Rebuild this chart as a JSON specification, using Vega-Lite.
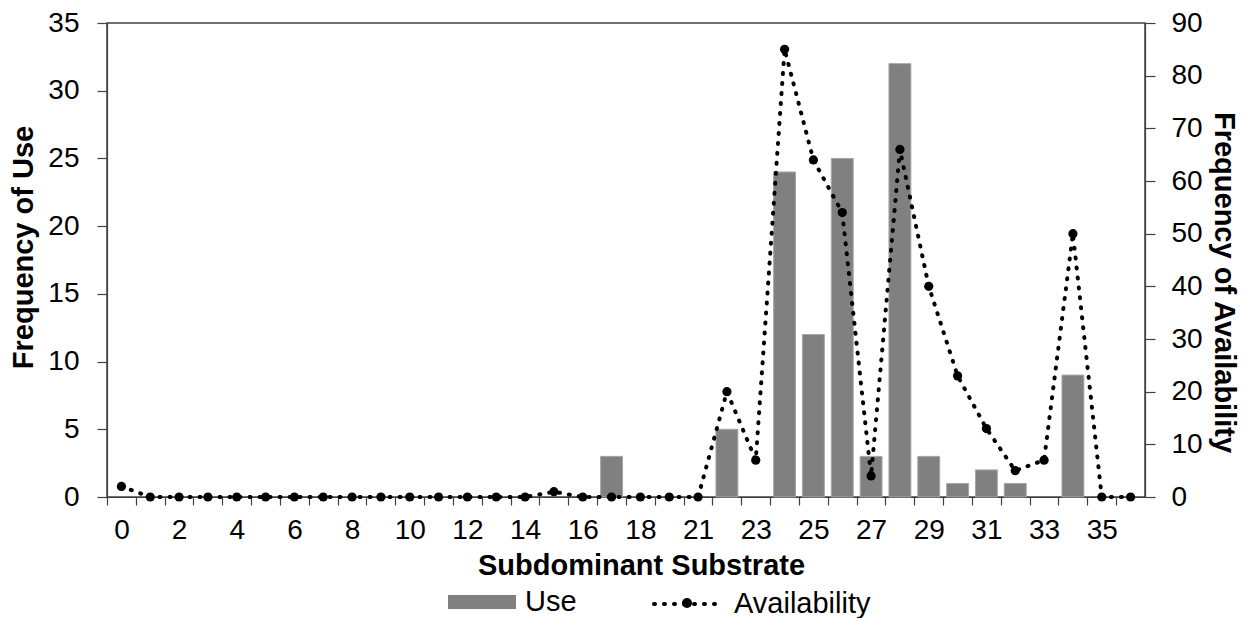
{
  "$schema": "https://vega.github.io/schema/vega-lite/v6.json",
  "width": 1038,
  "height": 474,
  "autosize": {"type": "none"},
  "padding": {"left": 107, "top": 23, "right": 105, "bottom": 121},
  "config": {
    "font": "Liberation Sans",
    "view": {"stroke": "#404040", "strokeWidth": 1.5},
    "axis": {"labelColor": "black", "titleColor": "black", "domainColor": "#404040", "tickColor": "#404040", "domainWidth": 1.2, "tickWidth": 1.2, "grid": false, "labelFont": "Liberation Sans", "titleFont": "Liberation Sans"},
    "legend": {"labelFont": "Liberation Sans", "labelColor": "black"}
  },
  "data": {
    "values": [
      {"idx": 0, "cat": "0", "use": null, "avail": 2},
      {"idx": 1, "cat": "1", "use": null, "avail": 0},
      {"idx": 2, "cat": "2", "use": null, "avail": 0},
      {"idx": 3, "cat": "3", "use": null, "avail": 0},
      {"idx": 4, "cat": "4", "use": null, "avail": 0},
      {"idx": 5, "cat": "5", "use": null, "avail": 0},
      {"idx": 6, "cat": "6", "use": null, "avail": 0},
      {"idx": 7, "cat": "7", "use": null, "avail": 0},
      {"idx": 8, "cat": "8", "use": null, "avail": 0},
      {"idx": 9, "cat": "9", "use": null, "avail": 0},
      {"idx": 10, "cat": "10", "use": null, "avail": 0},
      {"idx": 11, "cat": "11", "use": null, "avail": 0},
      {"idx": 12, "cat": "12", "use": null, "avail": 0},
      {"idx": 13, "cat": "13", "use": null, "avail": 0},
      {"idx": 14, "cat": "14", "use": null, "avail": 0},
      {"idx": 15, "cat": "15", "use": null, "avail": 1},
      {"idx": 16, "cat": "16", "use": null, "avail": 0},
      {"idx": 17, "cat": "17", "use": 3, "avail": 0},
      {"idx": 18, "cat": "18", "use": null, "avail": 0},
      {"idx": 19, "cat": "19", "use": null, "avail": 0},
      {"idx": 20, "cat": "21", "use": null, "avail": 0},
      {"idx": 21, "cat": "22", "use": 5, "avail": 20},
      {"idx": 22, "cat": "23", "use": null, "avail": 7},
      {"idx": 23, "cat": "24", "use": 24, "avail": 85},
      {"idx": 24, "cat": "25", "use": 12, "avail": 64},
      {"idx": 25, "cat": "26", "use": 25, "avail": 54},
      {"idx": 26, "cat": "27", "use": 3, "avail": 4},
      {"idx": 27, "cat": "28", "use": 32, "avail": 66},
      {"idx": 28, "cat": "29", "use": 3, "avail": 40},
      {"idx": 29, "cat": "30", "use": 1, "avail": 23},
      {"idx": 30, "cat": "31", "use": 2, "avail": 13},
      {"idx": 31, "cat": "32", "use": 1, "avail": 5},
      {"idx": 32, "cat": "33", "use": null, "avail": 7},
      {"idx": 33, "cat": "34", "use": 9, "avail": 50},
      {"idx": 34, "cat": "35", "use": null, "avail": 0},
      {"idx": 35, "cat": "36", "use": null, "avail": 0}
    ]
  },
  "encoding": {
    "x": {
      "field": "cat",
      "type": "ordinal",
      "scale": {
        "domain": ["0","1","2","3","4","5","6","7","8","9","10","11","12","13","14","15","16","17","18","19","21","22","23","24","25","26","27","28","29","30","31","32","33","34","35","36"],
        "paddingInner": 0,
        "paddingOuter": 0
      },
      "axis": {
        "title": "Subdominant Substrate",
        "titleFontSize": 29,
        "titleFontWeight": "bold",
        "titleX": 534,
        "titleY": 68,
        "titleBaseline": "middle",
        "titleAlign": "center",
        "labelAngle": 0,
        "labelFontSize": 28,
        "labelPadding": 11,
        "labelOverlap": false,
        "tickSize": 8,
        "tickOffset": -14.417,
        "labelOffset": 14.417,
        "labelExpr": "(toNumber(datum.value) < 20 ? toNumber(datum.value) % 2 == 0 : toNumber(datum.value) % 2 == 1) ? datum.label : ''"
      }
    }
  },
  "layer": [
    {
      "mark": {"type": "bar", "width": {"band": 0.76}, "stroke": "#a6a6a6", "strokeWidth": 1},
      "encoding": {
        "y": {
          "field": "use",
          "type": "quantitative",
          "scale": {"domain": [0, 35], "nice": false},
          "axis": {
            "title": "Frequency of Use",
            "titleFontSize": 29,
            "titleFontWeight": "bold",
            "titleAngle": -90,
            "titleX": -84,
            "titleY": 224,
            "titleBaseline": "middle",
            "titleAlign": "center",
            "values": [0, 5, 10, 15, 20, 25, 30, 35],
            "tickSize": 10,
            "labelPadding": 18,
            "labelFontSize": 28
          }
        },
        "fill": {
          "datum": "Use",
          "scale": {"range": ["#808080"]},
          "legend": {
            "orient": "none",
            "legendX": 341,
            "legendY": 545,
            "title": null,
            "padding": 0,
            "symbolType": "M-1,-0.206H1V0.206H-1Z",
            "symbolSize": 4624,
            "symbolStrokeWidth": 0,
            "labelFontSize": 29,
            "labelOffset": 9
          }
        }
      }
    },
    {
      "encoding": {
        "y": {
          "field": "avail",
          "type": "quantitative",
          "scale": {"domain": [0, 90], "nice": false},
          "axis": {
            "orient": "right",
            "title": "Frequency of Availability",
            "titleFontSize": 29,
            "titleFontWeight": "bold",
            "titleAngle": 90,
            "titleX": 78,
            "titleY": 259,
            "titleBaseline": "middle",
            "titleAlign": "center",
            "values": [0, 10, 20, 30, 40, 50, 60, 70, 80, 90],
            "tickSize": 10,
            "labelPadding": 16,
            "labelFontSize": 28
          }
        }
      },
      "layer": [
        {
          "mark": {"type": "line", "strokeDash": [1, 9], "strokeWidth": 4, "strokeCap": "round"},
          "encoding": {
            "stroke": {
              "datum": "Availability",
              "scale": {"range": ["black"]},
              "legend": {
                "orient": "none",
                "legendX": 545,
                "legendY": 546,
                "title": null,
                "padding": 0,
                "symbolType": "M-1,0H1",
                "symbolSize": 4356,
                "symbolStrokeWidth": 4,
                "symbolDash": [1, 9],
                "symbolStrokeColor": "black",
                "labelFontSize": 29,
                "labelOffset": 12,
                "encode": {"symbols": {"update": {"strokeCap": {"value": "round"}}}}
              }
            }
          }
        },
        {
          "mark": {"type": "point", "filled": true, "size": 85, "color": "black", "opacity": 1},
          "encoding": {
            "shape": {
              "datum": "Availability marker",
              "scale": {"range": ["circle"]},
              "legend": {
                "orient": "none",
                "legendX": 575,
                "legendY": 575,
                "title": null,
                "padding": 0,
                "symbolSize": 100,
                "symbolFillColor": "black",
                "symbolStrokeColor": "black",
                "symbolStrokeWidth": 0,
                "labelFontSize": 1,
                "labelExpr": "''"
              }
            }
          }
        }
      ]
    }
  ],
  "resolve": {"scale": {"y": "independent"}}
}
